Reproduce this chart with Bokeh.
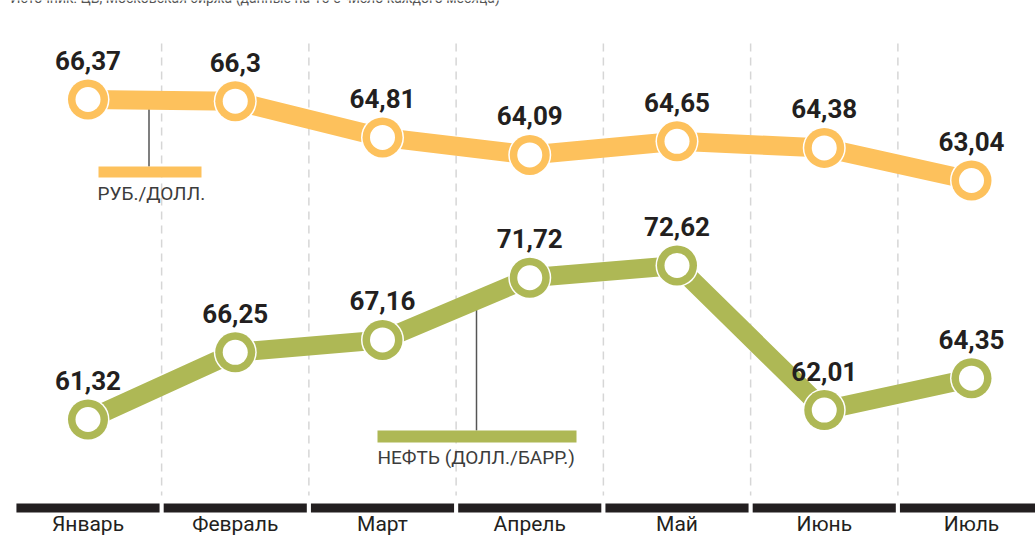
import numpy as np
from bokeh.plotting import figure
from bokeh.models import Range1d, ColumnDataSource
from bokeh.core.properties import value
from bokeh.embed import file_html
from bokeh.resources import INLINE

# ---------------- data ----------------
months = ["Январь", "Февраль", "Март", "Апрель", "Май", "Июнь", "Июль"]
rub_usd = [66.37, 66.30, 64.81, 64.09, 64.65, 64.38, 63.04]
oil_usd = [61.32, 66.25, 67.16, 71.72, 72.62, 62.01, 64.35]
rub_labels = ["66,37", "66,3", "64,81", "64,09", "64,65", "64,38", "63,04"]
oil_labels = ["61,32", "66,25", "67,16", "71,72", "72,62", "62,01", "64,35"]
rub_name = "РУБ./ДОЛЛ."
oil_name = "НЕФТЬ (ДОЛЛ./БАРР.)"
source_note = "Источник: ЦБ, Московская биржа (данные на 15-е число каждого месяца)"

# ---------------- layout / style ----------------
W, H = 1035, 543
ORANGE = "#FDC15C"
GREEN = "#AEB855"
DARK = "#231F20"
GRAY = "#3C3C3C"
FONT = value("Roboto")

# pixel anchors of the layout (canvas px)
X_PX0, X_STEP = 87.5, 147.25
R_PX, R_REF, R_SCALE = 99.0, 66.37, 24.32     # ruble axis: px of R_REF, px per unit
O_PX, O_REF, O_SCALE = 419.0, 61.32, 13.63    # oil axis

X0, X1 = -X_PX0 / X_STEP, (W - X_PX0) / X_STEP
R_TOP, R_BOT = R_REF + R_PX / R_SCALE, R_REF - (H - R_PX) / R_SCALE
O_TOP, O_BOT = O_REF + O_PX / O_SCALE, O_REF - (H - O_PX) / O_SCALE


def px_x(px):
    return X0 + px * (X1 - X0) / W


def px_r(py):
    return R_TOP - py * (R_TOP - R_BOT) / H


def px_o(py):
    return O_TOP - py * (O_TOP - O_BOT) / H


xs = list(range(len(months)))

p = figure(width=W, height=H, output_backend="svg", toolbar_location=None,
           x_range=Range1d(X0, X1), y_range=Range1d(R_BOT, R_TOP),
           x_axis_location=None, y_axis_location=None, min_border=0)
p.extra_y_ranges = {"oil": Range1d(O_BOT, O_TOP)}
p.grid.visible = False
p.outline_line_color = None
p.background_fill_color = "white"
p.border_fill_color = "white"

# source note (cropped at the top, as in the original)
p.text(x=[px_x(10)], y=[px_r(-3)], text=[source_note], text_font=FONT,
       text_font_size="14px", text_color="#555555", text_baseline="middle")

# dashed separators
sep = [i + 0.5 for i in xs[:-1]]
p.segment(x0=sep, x1=sep, y0=[px_r(43)] * len(sep), y1=[px_r(495)] * len(sep),
          line_color="#D6D6D6", line_width=1.5, line_dash="8 6")

# bottom month bars + labels
p.quad(left=[i - 0.486 for i in xs], right=[i + 0.486 for i in xs],
       top=[px_r(503)] * len(xs), bottom=[px_r(512)] * len(xs),
       fill_color=DARK, line_color=None)
p.text(x=xs, y=[px_r(523)] * len(xs), text=months, text_font=FONT,
       text_font_size="21px", text_color=DARK, text_align="center",
       text_baseline="middle")

# legend callouts
rx = px_x(148.5)
ry = float(np.interp(rx, xs, rub_usd))
p.segment(x0=[rx], x1=[rx], y0=[ry], y1=[px_r(166)], line_color="#555555", line_width=1.5)
p.scatter(x=[rx], y=[ry], size=5, fill_color="#333333", line_color=None)
p.quad(left=[px_x(98)], right=[px_x(201)], top=[px_r(166)], bottom=[px_r(177)],
       fill_color=ORANGE, line_color=None)
p.text(x=[px_x(97)], y=[px_r(192.5)], text=[rub_name], text_font=FONT,
       text_font_size="19px", text_color=GRAY, text_baseline="middle")

ox = px_x(476)
oy = float(np.interp(ox, xs, oil_usd))
p.segment(x0=[ox], x1=[ox], y0=[oy], y1=[px_o(430)],
          line_color="#555555", line_width=1.5, y_range_name="oil")
p.scatter(x=[ox], y=[oy], size=5, fill_color="#333333", line_color=None, y_range_name="oil")
p.quad(left=[px_x(377)], right=[px_x(576)], top=[px_r(430)], bottom=[px_r(442)],
       fill_color=GREEN, line_color=None)
p.text(x=[px_x(377)], y=[px_r(456.5)], text=[oil_name], text_font=FONT,
       text_font_size="19px", text_color=GRAY, text_baseline="middle")

# series
for vals, labels, color, rng in [(rub_usd, rub_labels, ORANGE, "default"),
                                  (oil_usd, oil_labels, GREEN, "oil")]:
    src = ColumnDataSource(dict(x=xs, y=vals, lab=labels))
    p.line("x", "y", source=src, line_color=color, line_width=19, y_range_name=rng)
    p.scatter("x", "y", source=src, size=43, fill_color="white", line_color=None, y_range_name=rng)
    p.scatter("x", "y", source=src, size=40, fill_color=color, line_color=None, y_range_name=rng)
    p.scatter("x", "y", source=src, size=25, fill_color="white", line_color=None, y_range_name=rng)
    p.text("x", "y", text="lab", source=src, y_offset=-39, text_font=FONT,
           text_font_style="bold", text_font_size="26px", text_color=DARK,
           text_align="center", text_baseline="middle", y_range_name=rng)

open("out.html", "w").write(file_html(p, INLINE))
